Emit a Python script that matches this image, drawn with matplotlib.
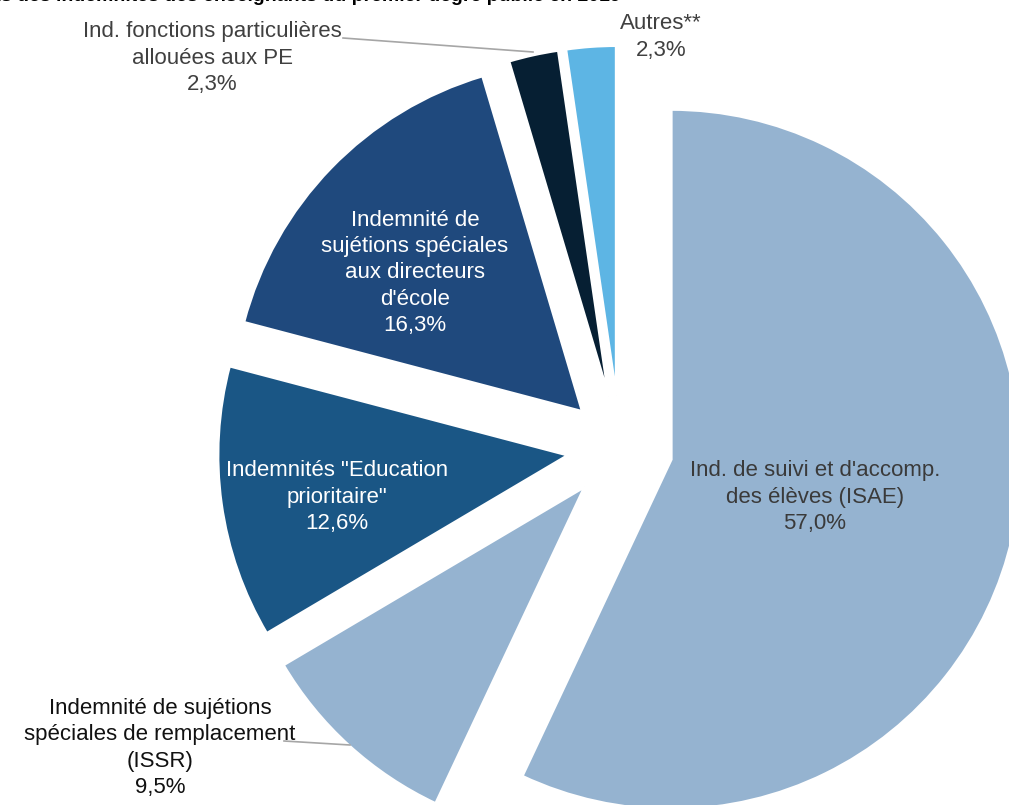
import matplotlib
matplotlib.use('Agg')
import matplotlib.pyplot as plt
from matplotlib import font_manager

names = {f.name for f in font_manager.fontManager.ttflist}
FONT = 'Liberation Sans Narrow' if 'Liberation Sans Narrow' in names else 'Liberation Sans'
plt.rcParams['font.family'] = [FONT, 'DejaVu Sans']
LABEL_SIZE = 18 if FONT == 'Liberation Sans Narrow' else 16

# data
categories = [
    "Ind. de suivi et d'accomp.\ndes élèves (ISAE)",
    'Indemnité de sujétions\nspéciales de remplacement\n(ISSR)',
    'Indemnités "Education\nprioritaire"',
    "Indemnité de\nsujétions spéciales\naux directeurs\nd'école",
    'Ind. fonctions particulières\nallouées aux PE',
    'Autres**',
]
shares = [57.0, 9.5, 12.6, 16.3, 2.3, 2.3]
colors = ['#95B3D0', '#95B3D0', '#1A5685', '#1F497D', '#061F33', '#5DB5E4']

W, H = 1009, 805
CENTER = (620, H - 448)
RADIUS = 350

fig = plt.figure(figsize=(W / 100, H / 100), dpi=100)
ax = fig.add_axes([0, 0, 1, 1])
ax.pie(shares, colors=colors, startangle=90, counterclock=False,
       center=CENTER, radius=RADIUS, explode=[0.15 * RADIUS] * len(shares),
       wedgeprops=dict(edgecolor='white', linewidth=2))
ax.set_xlim(0, W)
ax.set_ylim(0, H)
ax.set_aspect('equal')
ax.axis('off')


def pct(v):
    return f'{v:.1f}%'.replace('.', ',')


# label placement (pixel coords from the top-left)
label_pos = [(815, 497), (160, 748), (337, 497), (415, 273), (212, 58), (661, 37)]
label_col = ['#3A3A3A', '#111111', 'white', 'white', '#404040', '#404040']
for name, v, (x, y), c in zip(categories, shares, label_pos, label_col):
    ax.text(x, H - y, f'{name}\n{pct(v)}', ha='center', va='center',
            fontsize=LABEL_SIZE, color=c, linespacing=1.33)

# leader lines
ax.plot([343, 533], [H - 38, H - 52], color='#A6A6A6', lw=1.2)
ax.plot([284, 350], [H - 741, H - 745], color='#A6A6A6', lw=1.2)

# title, cut off at the top edge of the original
ax.text(-75, H - 1, 'Montants des indemnités des enseignants du premier degré public en 2019',
        ha='left', va='baseline', fontsize=14, fontweight='bold', color='black',
        family=['Liberation Sans', 'DejaVu Sans'])

fig.savefig('out.png', dpi=100)
